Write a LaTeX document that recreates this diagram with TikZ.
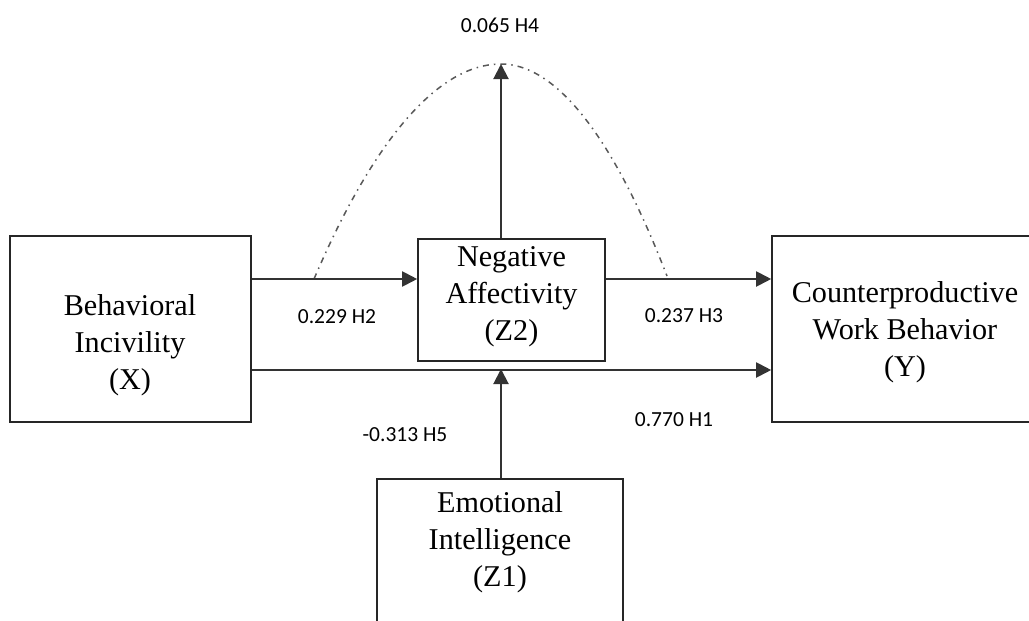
\documentclass[tikz,border=0pt]{standalone}
\usepackage{fontspec}
\setmainfont{Liberation Serif}
\newfontfamily\lblfont{Carlito}
\usetikzlibrary{arrows.meta}
\tikzset{
  box/.style={draw=black!85, line width=1.6pt, inner sep=0pt, fill=none},
  boxtext/.style={align=center, inner sep=0pt, font=\fontsize{30.2}{37}\selectfont},
  arr/.style={draw=black!80, line width=2pt, -{Triangle[length=15pt,width=15pt]}},
  lbl/.style={font=\lblfont\fontsize{21.5}{24}\selectfont, inner sep=0pt},
  dd/.style={draw=black!65, line width=1.5pt, dash pattern=on 6pt off 5pt on 1.5pt off 5pt}
}
\begin{document}
\begin{tikzpicture}[x=1pt,y=-1pt]
\useasboundingbox (0,0) rectangle (1029,621);
% boxes
\node[box, minimum width=241pt, minimum height=186pt] (X) at (130.5,329) {};
\node[boxtext] (Xt) at (130,345) {Behavioral\\Incivility\\(X)};
\node[box, minimum width=187pt, minimum height=122pt] (Z2) at (511.5,300) {};
\node[boxtext] (Z2t) at (511.5,297) {Negative\\Affectivity\\(Z2)};
\node[box, minimum width=266pt, minimum height=186pt] (Y) at (905,329) {};
\node[boxtext] (Yt) at (905,332) {Counterproductive\\Work Behavior\\(Y)};
\node[box, minimum width=246pt, minimum height=200pt] (Z1) at (500,579) {};
\node[boxtext] (Z1t) at (500,542) {Emotional\\Intelligence\\(Z1)};
% helper coordinates
\coordinate (r1) at (0,279);
\coordinate (r2) at (0,370);
\coordinate (c) at (501,0);
\coordinate (peak) at (501,64);
\coordinate (cs) at (314,279);
\coordinate (ce) at (667,276);
% connectors
\draw[dd] (cs) parabola bend (peak) (ce);
\draw[arr] (X.east |- r1) -- (Z2.west |- r1);
\draw[arr] (Z2.east |- r1) -- (Y.west |- r1);
\draw[arr] (X.east |- r2) -- (Y.west |- r2);
\draw[arr] (c |- Z1.north) -- ([yshift=1pt]c |- r2);
\draw[arr] (c |- Z2.north) -- (peak);
% labels
\node[lbl] (l4) at (500,25) {0.065 H4};
\node[lbl] (l2) at (337,317) {0.229 H2};
\node[lbl] (l3) at (684,316) {0.237 H3};
\node[lbl] (l1) at (674,420) {0.770 H1};
\node[lbl] (l5) at (405,435) {-0.313 H5};
\end{tikzpicture}
\end{document}
